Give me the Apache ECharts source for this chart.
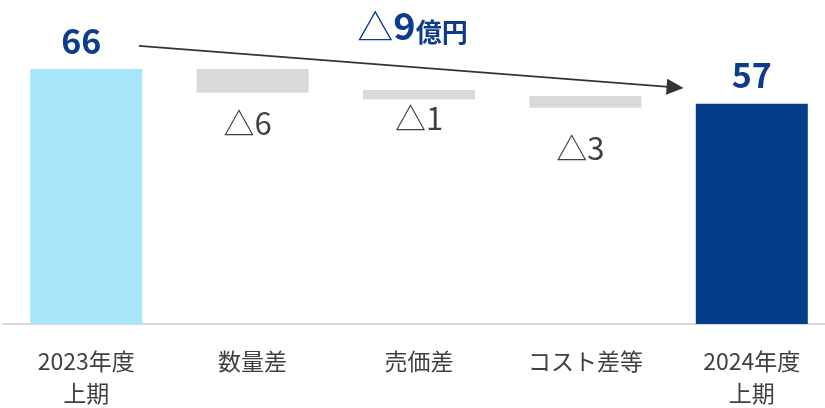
<!DOCTYPE html>
<html>
<head>
<meta charset="utf-8">
<script src="https://cdn.jsdelivr.net/npm/echarts@6/dist/echarts.min.js"></script>
<style>
html,body{margin:0;padding:0;background:#fff;}
#c{width:825px;height:408px;}
</style>
</head>
<body>
<div id="c"></div>
<script>
// ---- data ----
var categories = ['2023年度\n上期', '数量差', '売価差', 'コスト差等', '2024年度\n上期'];
var barHigh = [66, 66.0, 60.6, 59.0, 57];   // top of each bar
var barLow  = [0, 59.9, 58.2, 56.0, 0];     // bottom of each bar
var barLabels = ['66', '△6', '△1', '△3', '57'];
var totalText = { tri: '△', num: '9', unit: '億円' };
var arrowFrom = 72.0;  // value level where the overall arrow starts
var arrowTo = 61.1;    // value level where the arrow tip ends

// ---- styles ----
var BLUE = '#0d3c8c';
var barColors = ['#a6e5fa', '#d9d9d9', '#d9d9d9', '#d9d9d9', '#033e8b'];
var labelDist = [11, 15, 4, 25, 12];
var labelShiftX = [-5, -5, 0, -5, 0];
var JP = '"Noto Sans CJK JP", "Noto Sans", sans-serif';

var chart = echarts.init(document.getElementById('c'), null, {renderer: 'canvas'});

var baseData = barLow.map(function (v) { return v; });
var bodyData = barHigh.map(function (h, i) {
  var isTotal = (i === 0 || i === barHigh.length - 1);
  return {
    value: +(h - barLow[i]).toFixed(2),
    itemStyle: { color: barColors[i] },
    label: isTotal ? {
      show: true, position: 'top', distance: labelDist[i], offset: [labelShiftX[i], 0],
      formatter: barLabels[i],
      fontFamily: JP, fontWeight: 'bold', fontSize: 34, color: BLUE
    } : {
      show: true, position: 'bottom', distance: labelDist[i], offset: [labelShiftX[i], 0],
      formatter: barLabels[i],
      fontFamily: JP, fontWeight: 'normal', fontSize: 31, color: '#404040'
    }
  };
});

var option = {
  animation: false,
  backgroundColor: '#ffffff',
  title: {
    left: 'center',
    top: 0,
    text: '{t|' + totalText.tri + '}{n|' + totalText.num + '}{u|' + totalText.unit + '}',
    textStyle: {
      rich: {
        t: { fontFamily: JP, fontSize: 36, fontWeight: 'normal', color: BLUE, verticalAlign: 'bottom', lineHeight: 40 },
        n: { fontFamily: JP, fontSize: 38, fontWeight: 'bold', color: BLUE, verticalAlign: 'bottom', lineHeight: 40 },
        u: { fontFamily: JP, fontSize: 26, fontWeight: 'bold', color: BLUE, verticalAlign: 'bottom', lineHeight: 36 }
      }
    }
  },
  grid: { left: 3, right: -10, top: 15, bottom: 84, containLabel: false, outerBoundsMode: 'none' },
  xAxis: {
    type: 'category',
    data: categories,
    axisTick: { show: false },
    axisLine: { show: true, lineStyle: { color: '#d9d9d9', width: 2 } },
    axisLabel: {
      interval: 0, margin: 21,
      fontFamily: JP, fontSize: 23, lineHeight: 32, color: '#404040'
    }
  },
  yAxis: {
    type: 'value', min: 0, max: 80,
    show: false,
    splitLine: { show: false }
  },
  series: [
    {
      type: 'bar', stack: 'w', barWidth: 112,
      itemStyle: { color: 'rgba(0,0,0,0)' },
      emphasis: { disabled: true },
      data: baseData
    },
    {
      type: 'bar', stack: 'w', barWidth: 112,
      emphasis: { disabled: true },
      data: bodyData
    }
  ]
};
chart.setOption(option);

// overall arrow, positioned through the chart's own scales
function drawArrow() {
  var p0 = chart.convertToPixel({ xAxisIndex: 0, yAxisIndex: 0 }, [0, arrowFrom]);
  var p1 = chart.convertToPixel({ xAxisIndex: 0, yAxisIndex: 0 }, [categories.length - 1, arrowTo]);
  var band = chart.convertToPixel({ xAxisIndex: 0 }, 1) - chart.convertToPixel({ xAxisIndex: 0 }, 0);
  var sx = p0[0] + band * 0.317, sy = p0[1];
  var ex = p1[0] - band * 0.41, ey = p1[1];
  var dx = ex - sx, dy = ey - sy, len = Math.sqrt(dx * dx + dy * dy);
  var ux = dx / len, uy = dy / len;
  var headL = 17, headW = 8;
  var bx = ex - ux * headL, by = ey - uy * headL;
  chart.setOption({
    graphic: [
      { type: 'line', silent: true, shape: { x1: sx, y1: sy, x2: bx + ux * 2, y2: by + uy * 2 },
        style: { stroke: '#333333', lineWidth: 1.6 } },
      { type: 'polygon', silent: true,
        shape: { points: [[ex, ey], [bx - uy * headW, by + ux * headW], [bx + uy * headW, by - ux * headW]] },
        style: { fill: '#333333' } }
    ]
  });
}
drawArrow();
</script>
</body>
</html>
